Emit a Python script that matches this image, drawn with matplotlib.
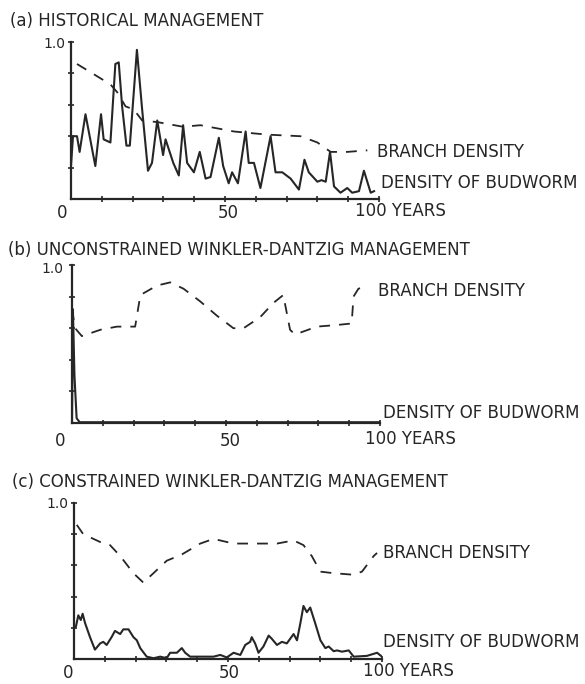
import matplotlib.pyplot as plt

W, H = 585, 684
INK = "#262626"

titles = ["(a) HISTORICAL MANAGEMENT",
          "(b) UNCONSTRAINED WINKLER-DANTZIG MANAGEMENT",
          "(c) CONSTRAINED WINKLER-DANTZIG MANAGEMENT"]
x_labels = ["0", "50", "100 YEARS"]
y_label = "1.0"
branch_label = "BRANCH DENSITY"
budworm_label = "DENSITY OF BUDWORM"

# (a) historical
a_bud_year = [0, 0.65, 1.95, 2.8, 4.7, 7.9, 9.75, 10.6, 12.8, 14.4, 15.5, 16.6, 18.0, 19.1,
              21.4, 23.1, 25.0, 26.3, 28.0, 29.9, 30.7, 33.2, 35.0, 36.4, 37.7, 39.9, 41.8,
              43.7, 45.3, 48.0, 49.4, 51.2, 52.3, 54.2, 56.7, 57.7, 59.4, 61.5, 64.8, 66.4,
              68.6, 71.3, 74.0, 75.8, 77.2, 80.0, 81.3, 82.7, 84.1, 85.4, 87.5, 89.7, 91.3,
              93.5, 95.1, 97.3, 98.4]
a_bud_val = [0.21, 0.40, 0.40, 0.30, 0.54, 0.21, 0.54, 0.38, 0.36, 0.86, 0.87, 0.59, 0.34, 0.34,
             0.95, 0.57, 0.18, 0.23, 0.50, 0.28, 0.38, 0.23, 0.15, 0.47, 0.23, 0.17, 0.30,
             0.13, 0.14, 0.39, 0.21, 0.10, 0.17, 0.10, 0.43, 0.23, 0.23, 0.07, 0.40, 0.17,
             0.17, 0.13, 0.06, 0.25, 0.17, 0.11, 0.12, 0.11, 0.30, 0.08, 0.04, 0.07, 0.04,
             0.05, 0.18, 0.04, 0.05]
a_br_year = [1.95, 12.8, 15.0, 17.7, 20.4, 23.1, 28.0, 36.4, 42.0, 52.9, 63.7, 74.5, 80.0,
             84.3, 89.7, 96.2]
a_br_val = [0.86, 0.73, 0.68, 0.59, 0.57, 0.50, 0.49, 0.46, 0.47, 0.43, 0.41, 0.40, 0.36,
            0.30, 0.30, 0.31]

# (b) unconstrained
b_bud_year = [0, 0.3, 0.8, 1.5, 2.5, 10, 30, 50, 70, 90, 100]
b_bud_val = [0.0, 0.72, 0.30, 0.03, 0.005, 0.005, 0.005, 0.005, 0.005, 0.005, 0.005]
b_br_year = [0, 1.0, 3.2, 9.2, 14.6, 20.5, 22.2, 27.6, 31.9, 36.2, 41.6, 47.0, 52.4, 55.7,
             61.1, 65.4, 68.6, 70.8, 72.4, 79.5, 85.9, 90.8, 91.4, 93.0, 96.2]
b_br_val = [0.72, 0.60, 0.55, 0.59, 0.61, 0.61, 0.81, 0.87, 0.89, 0.85, 0.77, 0.68, 0.60, 0.60,
            0.67, 0.76, 0.81, 0.59, 0.56, 0.61, 0.62, 0.63, 0.80, 0.85, 0.87]

# (c) constrained
c_bud_year = [0, 0.65, 1.4, 2.2, 2.8, 3.6, 5.2, 6.8, 8.5, 9.5, 10.6, 12.2, 13.3, 15.0, 16.0,
              17.7, 19.3, 20.4, 21.5, 23.6, 25.8, 28.0, 30.1, 31.2, 33.4, 35.0, 36.1, 37.7,
              41.0, 45.3, 47.5, 49.6, 51.8, 54.0, 55.6, 57.2, 57.7, 58.8, 59.9, 61.5, 63.2,
              64.2, 65.9, 67.5, 69.1, 71.3, 72.4, 73.5, 74.5, 75.6, 76.7, 78.3, 80.0, 81.6,
              82.7, 84.3, 85.4, 87.0, 89.2, 90.8, 95.1, 98.4, 100]
c_bud_val = [0.20, 0.21, 0.28, 0.25, 0.29, 0.23, 0.14, 0.06, 0.10, 0.11, 0.09, 0.14, 0.18,
             0.16, 0.19, 0.19, 0.14, 0.12, 0.07, 0.015, 0.005, 0.015, 0.005, 0.04, 0.04,
             0.07, 0.04, 0.015, 0.015, 0.015, 0.026, 0.01, 0.04, 0.026, 0.09, 0.11, 0.14,
             0.10, 0.04, 0.08, 0.15, 0.13, 0.09, 0.11, 0.10, 0.16, 0.12, 0.23, 0.34, 0.30,
             0.33, 0.23, 0.12, 0.07, 0.08, 0.05, 0.055, 0.047, 0.055, 0.015, 0.02, 0.04, 0.015]
c_br_year = [0.9, 3.0, 8.5, 11.7, 15.0, 19.3, 22.5, 25.8, 30.1, 35.0, 41.0, 45.3, 51.8, 58.3,
             65.9, 71.3, 74.5, 77.2, 80.0, 84.3, 90.8, 93.5, 97.3, 98.4]
c_br_val = [0.86, 0.80, 0.75, 0.73, 0.66, 0.55, 0.49, 0.55, 0.63, 0.67, 0.74, 0.77, 0.74, 0.74,
            0.74, 0.76, 0.73, 0.66, 0.56, 0.55, 0.54, 0.56, 0.66, 0.68]

panels = [
    dict(bud=(a_bud_year, a_bud_val), br=(a_br_year, a_br_val),
         box=(71, 379, 42, 199), title=(10, 21),
         br_txt=(377, 152), bud_txt=(381, 183), zero=(62, 213), fifty=(228, 213),
         hundred=(355, 211), one=(54, 44)),
    dict(bud=(b_bud_year, b_bud_val), br=(b_br_year, b_br_val),
         box=(72, 380, 265, 423), title=(8, 250),
         br_txt=(378, 291), bud_txt=(383, 413), zero=(60, 441), fifty=(230, 441),
         hundred=(365, 439), one=(52, 269)),
    dict(bud=(c_bud_year, c_bud_val), br=(c_br_year, c_br_val),
         box=(74, 382, 503, 659), title=(12, 482),
         br_txt=(383, 553), bud_txt=(383, 642), zero=(68, 673), fifty=(229, 673),
         hundred=(363, 671), one=(57, 504)),
]

fig = plt.figure(figsize=(W / 100, H / 100), dpi=100)


def fx(x):
    return x / W


def fy(y):
    return 1 - y / H


fs = 12
for title, p in zip(titles, panels):
    x0, x1, y0, y1 = p["box"]
    ax = fig.add_axes([fx(x0), fy(y1), (x1 - x0) / W, (y1 - y0) / H])
    ax.plot(*p["bud"], color=INK, lw=1.5, solid_joinstyle="round")
    ax.plot(*p["br"], color=INK, lw=1.3, dashes=(6, 5))
    ax.set_xlim(0, 100)
    ax.set_ylim(0, 1.0)
    ax.spines[["top", "right"]].set_visible(False)
    for s in ["left", "bottom"]:
        ax.spines[s].set_linewidth(1.6)
        ax.spines[s].set_color(INK)
    ax.set_xticks(range(10, 101, 10))
    ax.set_yticks([0.2, 0.4, 0.6, 0.8, 1.0])
    ax.tick_params(direction="inout", length=5, width=1.2, color=INK,
                   labelbottom=False, labelleft=False)
    ax.patch.set_visible(False)

    fig.text(fx(p["title"][0]), fy(p["title"][1]), title, fontsize=fs, color=INK,
             va="center", ha="left")
    fig.text(fx(p["br_txt"][0]), fy(p["br_txt"][1]), branch_label, fontsize=fs, color=INK,
             va="center", ha="left")
    fig.text(fx(p["bud_txt"][0]), fy(p["bud_txt"][1]), budworm_label, fontsize=fs, color=INK,
             va="center", ha="left")
    fig.text(fx(p["zero"][0]), fy(p["zero"][1]), x_labels[0], fontsize=fs, color=INK,
             va="center", ha="center")
    fig.text(fx(p["fifty"][0]), fy(p["fifty"][1]), x_labels[1], fontsize=fs, color=INK,
             va="center", ha="center")
    fig.text(fx(p["hundred"][0]), fy(p["hundred"][1]), x_labels[2], fontsize=fs, color=INK,
             va="center", ha="left")
    fig.text(fx(p["one"][0]), fy(p["one"][1]), y_label, fontsize=fs - 2, color=INK,
             va="center", ha="center")

fig.savefig("out.png", dpi=100, facecolor="white")
